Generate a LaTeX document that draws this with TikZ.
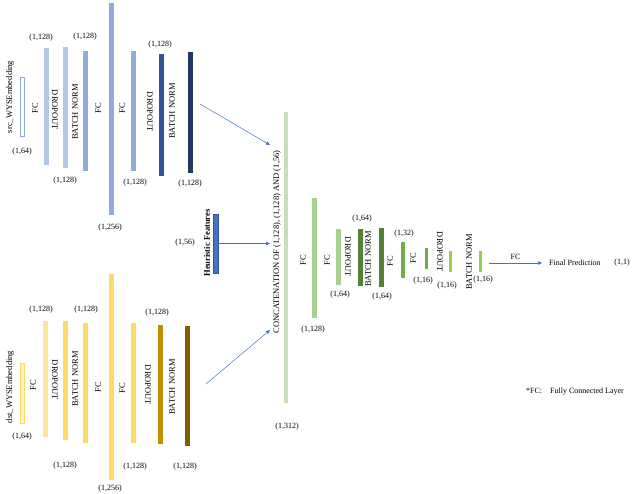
\documentclass[tikz,border=0pt]{standalone}
\usepackage{fontspec}
\setmainfont{Liberation Serif}
\usetikzlibrary{arrows.meta}
\definecolor{blueA}{HTML}{B4C7E7}
\definecolor{blueB}{HTML}{8FAADC}
\definecolor{blueC}{HTML}{2F5597}
\definecolor{blueD}{HTML}{1F3864}
\definecolor{blueE}{HTML}{4472C4}
\definecolor{yelA}{HTML}{FFF2CC}
\definecolor{yelB}{HTML}{FFE699}
\definecolor{yelC}{HTML}{FFD966}
\definecolor{yelD}{HTML}{BF9000}
\definecolor{yelE}{HTML}{7F6000}
\definecolor{grnA}{HTML}{C5E0B4}
\definecolor{grnB}{HTML}{A9D18E}
\definecolor{grnC}{HTML}{548235}
\definecolor{grnD}{HTML}{70AD47}
\definecolor{grnE}{HTML}{92D050}
\begin{document}
\begin{tikzpicture}[x=1pt,y=-1pt,
  bar/.style={rectangle, inner sep=0pt, outer sep=0pt, minimum width=5pt, draw=none},
  num/.style={inner sep=0pt, font=\fontsize{8}{9}\selectfont},
  vl/.style={inner sep=0pt, font=\fontsize{8.5}{9}\selectfont, rotate=90},
  vd/.style={inner sep=0pt, font=\fontsize{8.5}{9}\selectfont, rotate=-90},
  conn/.style={draw=blueE, line width=0.5pt, -{Triangle[length=4pt,width=3.5pt]}}]
\useasboundingbox[fill=white] (0,0) rectangle (640,493);

% ---------- top branch (src) ----------
\node[bar, draw=blueB, fill=white, line width=0.6pt, minimum width=4pt, minimum height=59pt] (s0) at (22,106.5) {};
\node[bar, fill=blueA, minimum height=117pt] (s1) at (46,106.5) {};
\node[bar, fill=blueA, minimum height=121pt] (s2) at (65,107.5) {};
\node[bar, fill=blueB, minimum height=120pt] (s3) at (85.5,111) {};
\node[bar, fill=blueB, minimum height=212pt] (s4) at (111,109) {};
\node[bar, fill=blueB, minimum height=120pt] (s5) at (133,111) {};
\node[bar, fill=blueC, minimum height=122pt] (s6) at (161,115) {};
\node[bar, fill=blueD, minimum height=121pt] (s7) at (190,112.5) {};

\node[vl] (ls0) at (10,97) {src\_WYSEmbedding};
\node[num] (ns0) at (22,152) {(1,64)};
\node[vl] (ls1) at (35,108) {FC};
\node[num] (ns1) at (41,38) {(1,128)};
\node[vd] (ls2) at (55,110) {DROPOUT};
\node[num] (ns2) at (65,181) {(1,128)};
\node[vl] (ls3) at (75,112) {BATCH NORM};
\node[num] (ns3) at (85,37) {(1,128)};
\node[vl] (ls4) at (98,108) {FC};
\node[num] (ns4) at (110,228) {(1,256)};
\node[vl] (ls5) at (122,108) {FC};
\node[num] (ns5) at (135,183) {(1,128)};
\node[vd] (ls6) at (150,112) {DROPOUT};
\node[num] (ns6) at (160,45) {(1,128)};
\node[vl] (ls7) at (172,111) {BATCH NORM};
\node[num] (ns7) at (190,184) {(1,128)};

% ---------- bottom branch (dst) ----------
\node[bar, draw=yelC, fill=yelA, line width=0.6pt, minimum width=4pt, minimum height=60pt] (d0) at (22,393) {};
\node[bar, fill=yelB, minimum height=116pt] (d1) at (45.5,379) {};
\node[bar, fill=yelC, minimum height=119pt] (d2) at (65,380.5) {};
\node[bar, fill=yelC, minimum height=120pt] (d3) at (85.5,383) {};
\node[bar, fill=yelC, minimum height=206pt] (d4) at (111,377) {};
\node[bar, fill=yelC, minimum height=120pt] (d5) at (133,383) {};
\node[bar, fill=yelD, minimum height=119pt] (d6) at (160,384.5) {};
\node[bar, fill=yelE, minimum height=120pt] (d7) at (187,386) {};

\node[vl] (ld0) at (10,387) {dst\_WYSEmbedding};
\node[num] (nd0) at (22,437) {(1,64)};
\node[vl] (ld1) at (33,385) {FC};
\node[num] (nd1) at (41,310) {(1,128)};
\node[vd] (ld2) at (55,380) {DROPOUT};
\node[num] (nd2) at (65,466) {(1,128)};
\node[vl] (ld3) at (75,379) {BATCH NORM};
\node[num] (nd3) at (86,310) {(1,128)};
\node[vl] (ld4) at (98,387) {FC};
\node[num] (nd4) at (110,489) {(1,256)};
\node[vl] (ld5) at (122,388) {FC};
\node[num] (nd5) at (135,467) {(1,128)};
\node[vd] (ld6) at (148,385) {DROPOUT};
\node[num] (nd6) at (157,313) {(1,128)};
\node[vl] (ld7) at (172,387) {BATCH NORM};
\node[num] (nd7) at (185,467) {(1,128)};

% ---------- heuristic features ----------
\node[bar, fill=blueE, draw=blueC, line width=0.4pt, minimum height=59pt] (hf) at (215.5,243.5) {};
\node[vl, font=\fontsize{8.5}{9}\selectfont\bfseries] (lhf) at (207,243) {Heuristic Features};
\node[num] (nhf) at (185,243) {(1,56)};

% ---------- concatenation & head ----------
\node[bar, fill=grnA, minimum width=4pt, minimum height=291pt] (cc) at (286,257.5) {};
\node[vl] (lcc) at (277,242) {CONCATENATION OF (1,128), (1,128) AND (1,56)};
\node[num] (ncc) at (287,427) {(1,312)};

\node[bar, fill=grnB, minimum height=120pt] (r1) at (314.5,258) {};
\node[vl] (lr1) at (303,260) {FC};
\node[num] (nr1) at (313,330) {(1,128)};
\node[bar, fill=grnB, minimum height=56pt] (r2) at (338.5,257) {};
\node[vl] (lr2) at (327,260) {FC};
\node[num] (nr2) at (340,295) {(1,64)};
\node[bar, fill=grnC, minimum height=57pt] (r3) at (360.5,257.5) {};
\node[vd] (lr3) at (348,257) {DROPOUT};
\node[num] (nr3) at (362,219) {(1,64)};
\node[bar, fill=grnC, minimum height=59pt] (r4) at (381.5,257.5) {};
\node[vl] (lr4) at (368,259) {BATCH NORM};
\node[num] (nr4) at (382,297) {(1,64)};
\node[bar, fill=grnD, minimum width=4pt, minimum height=36pt] (r5) at (403,260) {};
\node[vl] (lr5) at (390,261) {FC};
\node[num] (nr5) at (404,234) {(1,32)};
\node[bar, fill=grnD, minimum width=3pt, minimum height=21pt] (r6) at (426,258.5) {};
\node[vl] (lr6) at (413,258) {FC};
\node[num] (nr6) at (423,281) {(1,16)};
\node[bar, fill=grnE, minimum width=3pt, minimum height=21pt] (r7) at (450.5,261.5) {};
\node[vd] (lr7) at (440,252) {DROPOUT};
\node[num] (nr7) at (447,286) {(1,16)};
\node[bar, fill=grnE, minimum width=3pt, minimum height=21pt] (r8) at (480.5,261.5) {};
\node[vl] (lr8) at (469,262) {BATCH NORM};
\node[num] (nr8) at (483,280) {(1,16)};

\node[num, anchor=west] (fp) at (549,263) {Final Prediction};
\node[num] (fo) at (622,263) {(1,1)};
\node[num] (note) at (575,392) {*FC:\quad Fully Connected Layer};

% ---------- connectors ----------
\coordinate (t1) at (200,104);
\coordinate (h1) at (270,145);
\coordinate (t2) at (206,384);
\coordinate (h2) at (270,330);
\coordinate (h3) at (270,243.5);
\coordinate (t4) at (489,263);
\coordinate (h4) at (542,263);
\draw[conn] (t1) -- (h1);
\draw[conn] (t2) -- (h2);
\draw[conn] (hf.east) -- (h3);
\draw[conn] (t4) -- node[num, above=3pt] (lfc) {FC} (h4);
\end{tikzpicture}
\end{document}
